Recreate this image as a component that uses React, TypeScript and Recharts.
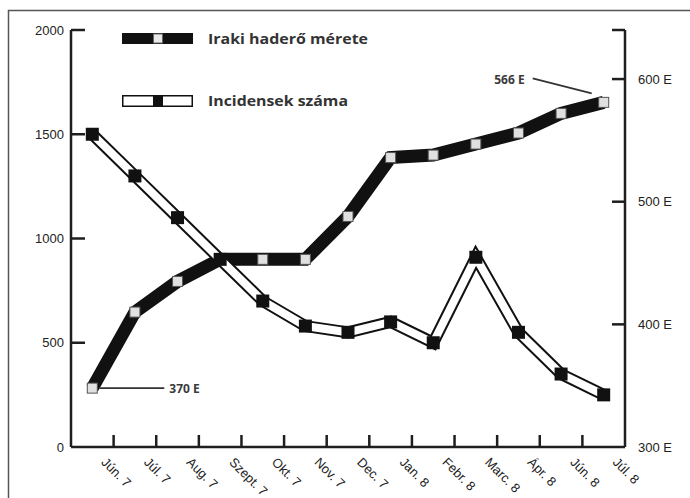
import React from 'react';
import { LineChart, Line, XAxis, YAxis } from 'recharts';

const months = ['Jún. 7', 'Júl. 7', 'Aug. 7', 'Szept. 7', 'Okt. 7', 'Nov. 7', 'Dec. 7', 'Jan. 8', 'Febr. 8', 'Marc. 8', 'Ápr. 8', 'Jún. 8', 'Júl. 8'];
const incidents = [1500, 1300, 1100, 900, 700, 580, 550, 600, 500, 910, 550, 350, 250];
const forceSize = [348, 410, 435, 453, 453, 453, 488, 536, 538, 547, 556, 572, 581];
const leftTicks = [0, 500, 1000, 1500, 2000];
const rightTicks = [300, 400, 500, 600, 640];
const rightTickLabels = ['300 E', '400 E', '500 E', '600 E', ''];
const monthTicks = months.map((_, i) => i + 1);
const firstNote = '370 E';
const lastNote = '566 E';
const legendForce = 'Iraki haderő mérete';
const legendIncidents = 'Incidensek száma';

const data = months.map((m, i) => ({ pos: i + 0.5, month: m, incidents: incidents[i], force: forceSize[i] }));

const INK = '#1e1e1e';
const AXIS_FONT = '"Liberation Sans", Arial, sans-serif';
const NOTE_FONT = '"Noto Sans", "Open Sans", sans-serif';
const LEGEND_FONT = '"Open Sans", "Noto Sans", sans-serif';

const LeftTick = (props: any) => {
  const { x, y, payload } = props;
  return (
    <g>
      {payload.value !== 0 && <line x1={x} x2={x + 14} y1={y} y2={y} stroke={INK} strokeWidth={2.5} />}
      <text x={x - 7} y={y} dy={4.5} textAnchor="end" fontSize={13} fill="#222" fontFamily={AXIS_FONT}>
        {payload.value}
      </text>
    </g>
  );
};

const RightTick = (props: any) => {
  const { x, y, payload } = props;
  const label = rightTickLabels[rightTicks.indexOf(payload.value)] ?? '';
  return (
    <g>
      {payload.value !== 300 && <line x1={x - 13} x2={x} y1={y} y2={y} stroke={INK} strokeWidth={2.5} />}
      <text x={x + 13} y={y} dy={4.5} textAnchor="start" fontSize={13} fill="#222" fontFamily={AXIS_FONT}>
        {label}
      </text>
    </g>
  );
};

const MonthTick = (props: any) => {
  const { x, y, payload } = props;
  const label = months[payload.value - 1] ?? '';
  return (
    <g>
      {payload.value < months.length && <line x1={x} x2={x} y1={y} y2={y - 12} stroke={INK} strokeWidth={2.5} />}
      <text
        transform={`translate(${x - 13},${y + 16}) rotate(45)`}
        textAnchor="start"
        fontSize={13}
        fill="#222"
        fontFamily={AXIS_FONT}
      >
        {label}
      </text>
    </g>
  );
};

const ForceDot = (props: any) => {
  const { cx, cy, index } = props;
  if (cx == null || cy == null) return <g key={`fd-${index}`} />;
  return (
    <g key={`fd-${index}`}>
      <rect x={cx - 5} y={cy - 5} width={10} height={10} fill="#e0e0e0" stroke="#555" strokeWidth={1} />
      {index === 0 && (
        <g>
          <line x1={cx + 7} x2={cx + 72} y1={cy} y2={cy} stroke="#333" strokeWidth={1.6} />
          <text x={cx + 77} y={cy} dy={4.5} fontSize={12} fontWeight={700} fill="#3a3a3a" fontFamily={NOTE_FONT}>
            {firstNote}
          </text>
        </g>
      )}
      {index === data.length - 1 && (
        <g>
          <line x1={cx - 71} y1={cy - 24} x2={cx - 12} y2={cy - 9} stroke="#333" strokeWidth={1.6} />
          <text x={cx - 79} y={cy - 23} dy={4.5} textAnchor="end" fontSize={12} fontWeight={700} fill="#3a3a3a" fontFamily={NOTE_FONT}>
            {lastNote}
          </text>
        </g>
      )}
    </g>
  );
};

const IncidentDot = (props: any) => {
  const { cx, cy, index } = props;
  if (cx == null || cy == null) return <g key={`id-${index}`} />;
  return <rect key={`id-${index}`} x={cx - 6.5} y={cy - 6.5} width={13} height={13} fill="#111" />;
};

export default function App() {
  return (
    <div style={{ position: 'absolute', left: 0, top: 0, width: 690, height: 498, background: '#fff' }}>
      <LineChart
        width={690}
        height={498}
        data={data}
        margin={{ top: 30, left: 31, right: 25, bottom: 11 }}
      >
        <XAxis
          dataKey="pos"
          type="number"
          domain={[0, months.length]}
          ticks={monthTicks}
          interval={0}
          height={40}
          tickSize={0}
          tickMargin={0}
          tickLine={false}
          axisLine={{ stroke: INK, strokeWidth: 2.5 }}
          tick={<MonthTick />}
        />
        <YAxis
          yAxisId="left"
          orientation="left"
          domain={[0, 2000]}
          ticks={leftTicks}
          interval={0}
          width={40}
          tickSize={0}
          tickMargin={0}
          tickLine={false}
          axisLine={{ stroke: INK, strokeWidth: 2.5 }}
          tick={<LeftTick />}
        />
        <YAxis
          yAxisId="right"
          orientation="right"
          domain={[300, 640]}
          ticks={rightTicks}
          interval={0}
          width={40}
          tickSize={0}
          tickMargin={0}
          tickLine={false}
          axisLine={{ stroke: INK, strokeWidth: 2.5 }}
          tick={<RightTick />}
        />
        <Line
          yAxisId="right"
          dataKey="force"
          type="linear"
          stroke="#111"
          strokeWidth={13}
          dot={ForceDot}
          activeDot={false}
          isAnimationActive={false}
        />
        <Line
          yAxisId="left"
          dataKey="incidents"
          type="linear"
          stroke="#111"
          strokeWidth={12}
          dot={false}
          activeDot={false}
          isAnimationActive={false}
        />
        <Line
          yAxisId="left"
          dataKey="incidents"
          type="linear"
          stroke="#fff"
          strokeWidth={8}
          dot={IncidentDot}
          activeDot={false}
          isAnimationActive={false}
        />
      </LineChart>
      <svg
        width={690}
        height={498}
        style={{ position: 'absolute', left: 0, top: 0, pointerEvents: 'none' }}
      >
        <path d="M8.5,498 L8.5,10.5 L690,10.5" fill="none" stroke="#555" strokeWidth={1.5} />
        <rect x={122} y={33} width={71} height={11} fill="#111" />
        <rect x={153.5} y={34} width={9} height={9} fill="#e8e8e8" stroke="#666" strokeWidth={1} />
        <text x={208} y={44} fontSize={15} fontWeight={700} fill="#333" fontFamily={LEGEND_FONT} textLength={160} lengthAdjust="spacingAndGlyphs">
          {legendForce}
        </text>
        <rect x={122.75} y={95.75} width={69.5} height={10.5} fill="#fff" stroke="#111" strokeWidth={1.5} />
        <rect x={153} y={95} width={10} height={12} fill="#111" />
        <text x={208} y={106} fontSize={15} fontWeight={700} fill="#333" fontFamily={LEGEND_FONT} textLength={140} lengthAdjust="spacingAndGlyphs">
          {legendIncidents}
        </text>
      </svg>
    </div>
  );
}
